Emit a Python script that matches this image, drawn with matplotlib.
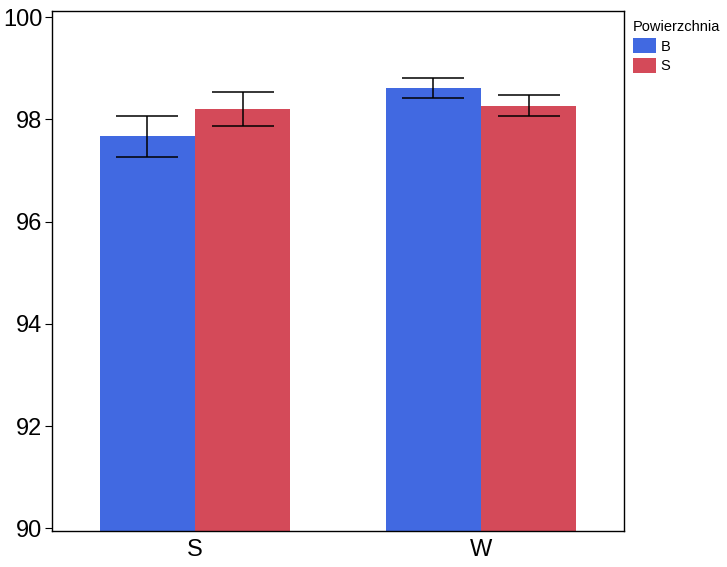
import numpy as np
import matplotlib.pyplot as plt

plt.rcParams['font.family'] = ['Liberation Sans', 'DejaVu Sans']

# Data
groups = ['S', 'W']
surfaces = ['B', 'S']
means = {'B': [97.67, 98.61], 'S': [98.20, 98.27]}
errs = {'B': [0.40, 0.19], 'S': [0.33, 0.21]}
colors = {'B': '#4169E1', 'S': '#D44A59'}

fig = plt.figure(figsize=(7.27, 5.67), dpi=100)
ax = fig.add_axes([52 / 727, 36 / 567, 572 / 727, 520 / 567])

x = np.arange(len(groups))
w = 0.333
for i, s in enumerate(surfaces):
    pos = x + (i - 0.5) * w
    ax.bar(pos, means[s], width=w, color=colors[s], label=s, zorder=1)
    ax.errorbar(pos, means[s], yerr=errs[s], fmt='none', ecolor='black',
                elinewidth=1.1, capsize=22.5, capthick=1.1, zorder=2)

ax.set_xlim(-0.5, 1.5)
ax.set_ylim(89.95, 100.12)
ax.set_yticks([90, 92, 94, 96, 98, 100])
ax.set_xticks(x)
ax.set_xticklabels(groups)
ax.tick_params(axis='y', labelsize=17, length=5, width=0.8, pad=2)
ax.tick_params(axis='x', labelsize=17, length=0, pad=6)
for sp in ax.spines.values():
    sp.set_linewidth(1.0)

leg = ax.legend(title='Powierzchnia', loc='upper left', bbox_to_anchor=(1.0, 1.0),
                frameon=False, fontsize=10.5, title_fontsize=10.5,
                handlelength=1.6, handleheight=1.2, handletextpad=0.3,
                labelspacing=0.3, borderaxespad=0.3, borderpad=0.3)
leg._legend_box.align = 'left'

fig.savefig('out.png', dpi=100)
